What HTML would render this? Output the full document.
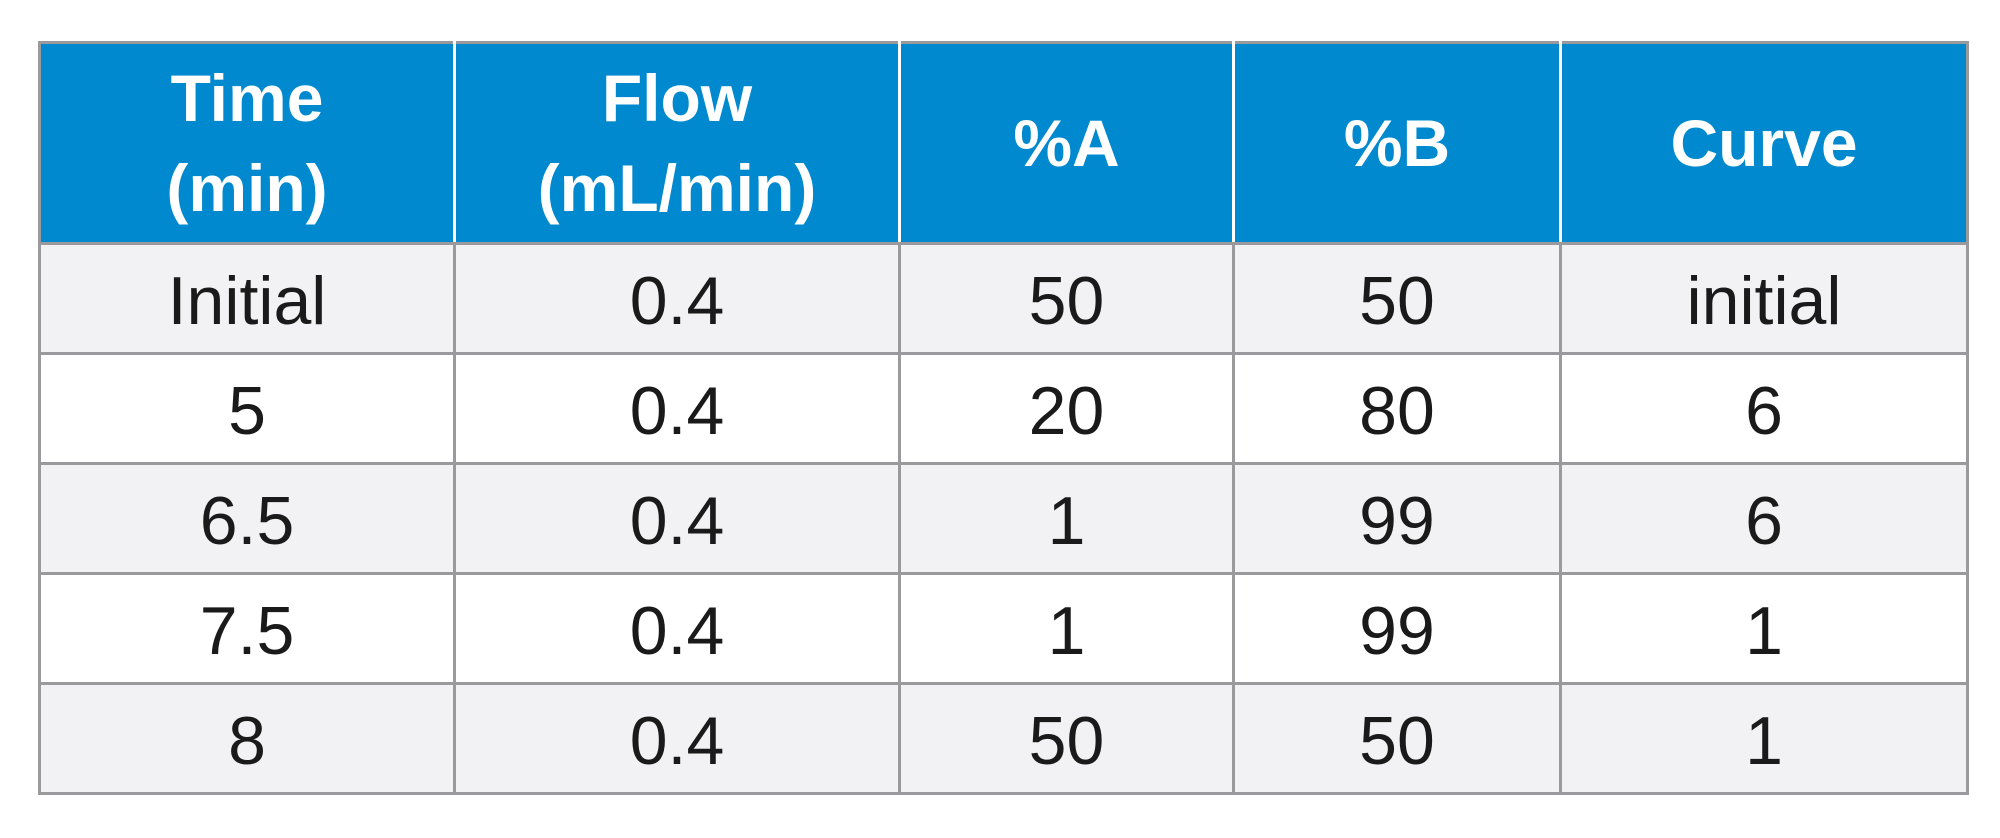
<!DOCTYPE html>
<html><head><meta charset="utf-8"><style>
html,body{margin:0;padding:0;background:#fff;width:2000px;height:838px;overflow:hidden}
table{position:absolute;left:38px;top:41px;border-collapse:collapse;font-family:"Liberation Sans",sans-serif;}
td,th{border:3px solid #9a9a9c;text-align:center;padding:0;color:#1a1a1a;font-size:68px;font-weight:normal}
th{background:#0089cf;color:#fff;font-weight:bold;font-size:66px;line-height:90px;height:198px;border-color:#9a9a9c;border-left-color:#fff;border-right-color:#fff}
th:first-child{border-left-color:#9a9a9c}
th:last-child{border-right-color:#9a9a9c}
td{height:103px;padding-top:4px}
tr.g td{background:#f2f2f4}
</style></head><body>
<table>
<colgroup><col style="width:415px"><col style="width:445px"><col style="width:334px"><col style="width:327px"><col style="width:407px"></colgroup>
<tr><th>Time<br>(min)</th><th>Flow<br>(mL/min)</th><th>%A</th><th>%B</th><th>Curve</th></tr>
<tr class="g"><td>Initial</td><td>0.4</td><td>50</td><td>50</td><td>initial</td></tr>
<tr><td>5</td><td>0.4</td><td>20</td><td>80</td><td>6</td></tr>
<tr class="g"><td>6.5</td><td>0.4</td><td>1</td><td>99</td><td>6</td></tr>
<tr><td>7.5</td><td>0.4</td><td>1</td><td>99</td><td>1</td></tr>
<tr class="g"><td>8</td><td>0.4</td><td>50</td><td>50</td><td>1</td></tr>
</table>
</body></html>
